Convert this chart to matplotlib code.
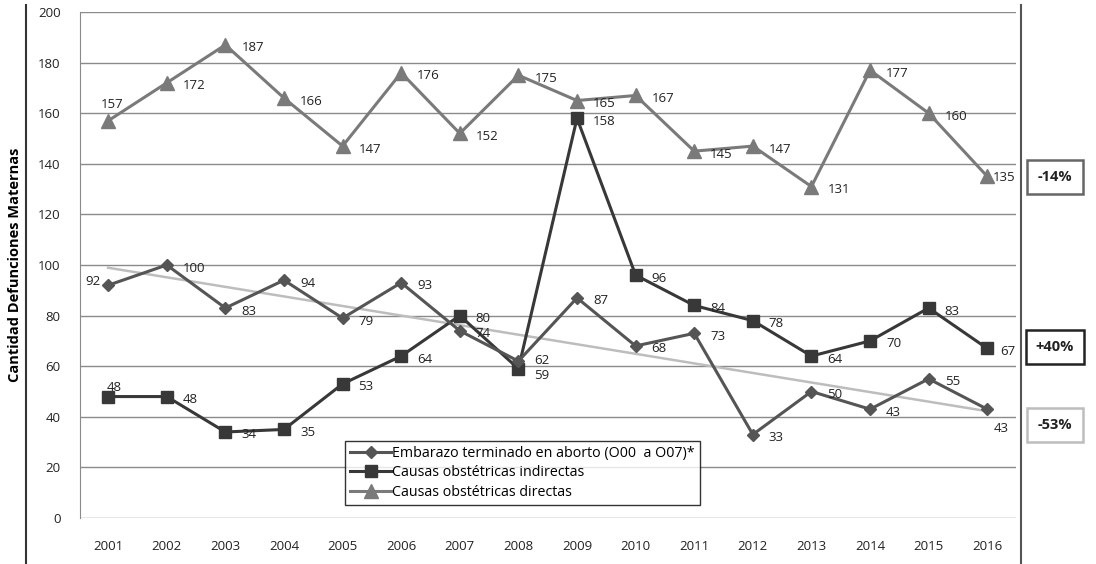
import matplotlib
matplotlib.use("Agg")
import matplotlib.pyplot as plt
import numpy as np

# datos
years = list(range(2001, 2017))
aborto = [92, 100, 83, 94, 79, 93, 74, 62, 87, 68, 73, 33, 50, 43, 55, 43]
indirectas = [48, 48, 34, 35, 53, 64, 80, 59, 158, 96, 84, 78, 64, 70, 83, 67]
directas = [157, 172, 187, 166, 147, 176, 152, 175, 165, 167, 145, 147, 131, 177, 160, 135]
nombres = ["Embarazo terminado en aborto (O00  a O07)*",
           "Causas obstétricas indirectas",
           "Causas obstétricas directas"]
variaciones = ["-14%", "+40%", "-53%"]

plt.rcParams['font.family'] = ['Open Sans', 'DejaVu Sans']

fig = plt.figure(figsize=(10.96, 5.64), dpi=100)
ax = fig.add_axes([80/1096, 1-518/564, 936/1096, 506/564])

c_dir = '#7a7a7a'
c_ind = '#383838'
c_abo = '#555555'

ax.plot(years, directas, color=c_dir, lw=2.2, marker='^', ms=9.5, label=nombres[2], zorder=3)
ax.plot(years, indirectas, color=c_ind, lw=2.2, marker='s', ms=9, label=nombres[1], zorder=4)
ax.plot(years, aborto, color=c_abo, lw=2.2, marker='D', ms=6, label=nombres[0], zorder=5)

# linea de tendencia del aborto
p = np.polyfit(years, aborto, 1)
ax.plot([years[0], years[-1]], np.polyval(p, [years[0], years[-1]]), color='#bdbdbd', lw=1.8, zorder=2)

# etiquetas de valores
def etiquetas(vals, especiales):
    for i, (x, v) in enumerate(zip(years, vals)):
        dx, dy, ha = especiales.get(i, (16, -3, 'left'))
        ax.annotate(str(v), (x, v), xytext=(dx, dy), textcoords='offset pixels',
                    ha=ha, va='center', fontsize=9.5, color='#222222', zorder=6)

etiquetas(directas, {0: (4, 16, 'center'), 15: (6, -1, 'left')})
etiquetas(indirectas, {0: (6, 9, 'center'), 7: (16, -7, 'left'), 15: (13, -3, 'left')})
etiquetas(aborto, {0: (-8, 4, 'right'), 7: (16, 1, 'left'), 15: (6, -19, 'left')})

ax.set_xlim(2000.52, 2016.49)
ax.set_ylim(0, 200)
ax.set_yticks(range(0, 201, 20))
ax.set_xticks(years)
ax.grid(axis='y', color='#8a8a8a', lw=1)
ax.set_axisbelow(True)
for s in ['top', 'right', 'bottom']:
    ax.spines[s].set_visible(False)
ax.spines['left'].set_color('#8a8a8a')
ax.tick_params(length=0, labelsize=9.5, colors='#222222')
ax.tick_params(axis='y', pad=14)
ax.tick_params(axis='x', pad=16)

ax.set_ylabel('Cantidad Defunciones Maternas', fontsize=10.5, fontweight='bold', labelpad=0)
ax.yaxis.set_label_coords(-58/936, 0.5)

h, l = ax.get_legend_handles_labels()
leg = ax.legend(h[::-1], l[::-1], loc='lower left', bbox_to_anchor=(0.276, 0.012),
                fontsize=10.3, frameon=True, fancybox=False, edgecolor='black',
                handlelength=2.8, borderpad=0.35, labelspacing=0.3, handletextpad=0.1)
leg.get_frame().set_linewidth(1)

# lineas del marco exterior
fig.add_artist(plt.Line2D([26/1096, 26/1096], [0, 1-5/564], color='#333333', lw=1.5))
fig.add_artist(plt.Line2D([1021/1096, 1021/1096], [0, 1-5/564], color='#555555', lw=1.5))

# cajas de variacion
bordes = ['#666666', '#222222', '#bdbdbd']
ypos = [177, 347, 425]
for txt, b, y in zip(variaciones, bordes, ypos):
    fig.text(1055/1096, 1-y/564, txt, ha='center', va='center', fontsize=10.5,
             fontweight='bold', color='#222222',
             bbox=dict(boxstyle='square,pad=0.7', fc='white', ec=b, lw=1.8))

plt.savefig('out.png', dpi=100)
